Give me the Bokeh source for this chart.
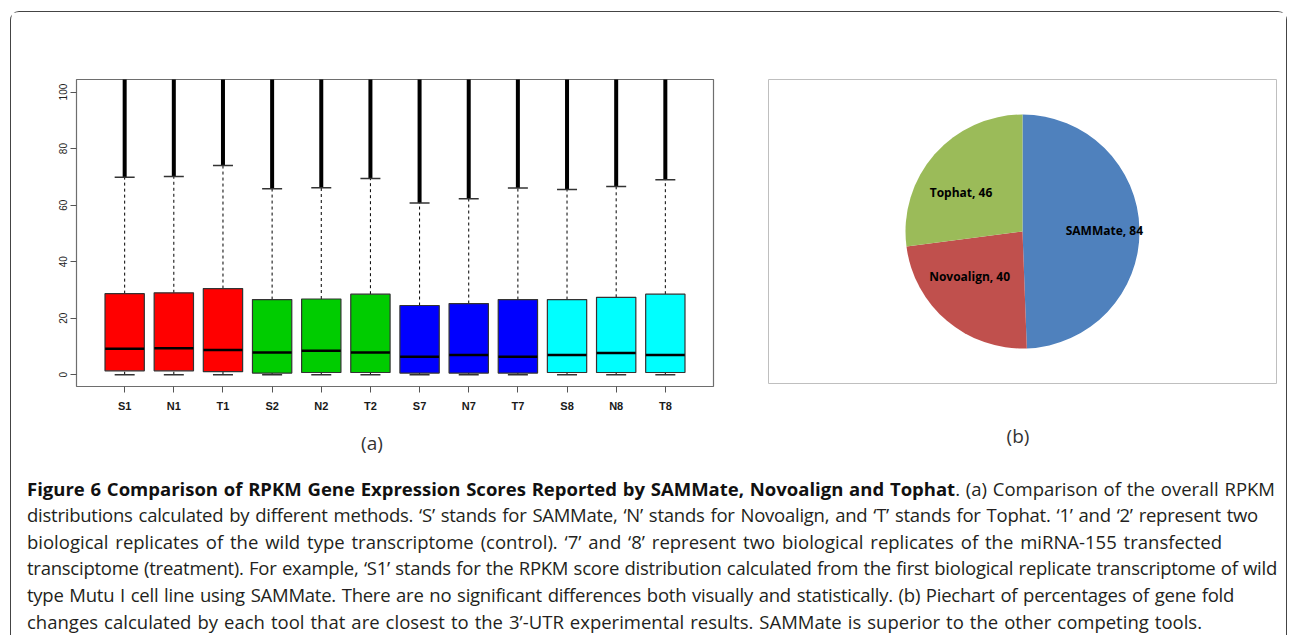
import numpy as np
from bokeh.plotting import figure
from bokeh.models import Range1d, FixedTicker, Div, ColumnDataSource
from bokeh.layouts import column, row
from bokeh.core.properties import value
from bokeh.embed import file_html
from bokeh.resources import INLINE

# ---------------- data: (a) RPKM box plot ----------------
categories = ["S1", "N1", "T1", "S2", "N2", "T2", "S7", "N7", "T7", "S8", "N8", "T8"]
lower_whisker = [0.0, 0.0, 0.0, 0.0, 0.0, 0.0, 0.0, 0.0, 0.0, 0.0, 0.0, 0.0]
q1 = [1.4, 1.4, 1.1, 0.6, 0.8, 0.8, 0.6, 0.6, 0.6, 0.8, 0.8, 0.8]
median = [9.2, 9.4, 8.8, 7.9, 8.5, 7.9, 6.4, 7.0, 6.4, 7.0, 7.7, 7.0]
q3 = [28.7, 29.0, 30.5, 26.6, 26.8, 28.5, 24.5, 25.2, 26.6, 26.6, 27.4, 28.5]
upper_whisker = [69.9, 70.1, 74.0, 65.8, 66.2, 69.4, 60.8, 62.3, 66.1, 65.5, 66.6, 69.0]
outlier_top = [120.0, 120.0, 120.0, 120.0, 120.0, 120.0, 120.0, 120.0, 120.0, 120.0, 120.0, 120.0]
box_colors = ["#FF0000", "#FF0000", "#FF0000", "#00CC00", "#00CC00", "#00CC00",
              "#0000FF", "#0000FF", "#0000FF", "#00FFFF", "#00FFFF", "#00FFFF"]
y_ticks = [0, 20, 40, 60, 80, 100]

# ---------------- data: (b) pie chart ----------------
methods = ["SAMMate", "Novoalign", "Tophat"]
closest_counts = [84, 40, 46]
pie_colors = ["#4F81BD", "#C0504D", "#9BBB59"]

panel_labels = ["(a)", "(b)"]

caption_bold = "Figure 6 Comparison of RPKM Gene Expression Scores Reported by SAMMate, Novoalign and Tophat"
caption_lines = [
    ". (a) Comparison of the overall RPKM",
    "distributions calculated by different methods. \u2018S\u2019 stands for SAMMate, \u2018N\u2019 stands for Novoalign, and \u2018T\u2019 stands for Tophat. \u20181\u2019 and \u20182\u2019 represent two",
    "biological replicates of the wild type transcriptome (control). \u20187\u2019 and \u20188\u2019 represent two biological replicates of the miRNA-155 transfected",
    "transciptome (treatment). For example, \u2018S1\u2019 stands for the RPKM score distribution calculated from the first biological replicate transcriptome of wild",
    "type Mutu I cell line using SAMMate. There are no significant differences both visually and statistically. (b) Piechart of percentages of gene fold",
    "changes calculated by each tool that are closest to the 3\u2019-UTR experimental results. SAMMate is superior to the other competing tools.",
]

# ---------------- (a) box plot ----------------
xpos = list(range(1, len(categories) + 1))
src = ColumnDataSource(dict(x=xpos, lw=lower_whisker, q1=q1, med=median, q3=q3,
                            uw=upper_whisker, otop=outlier_top, color=box_colors))

p = figure(output_backend="svg", toolbar_location=None,
           frame_width=637, frame_height=307,
           x_range=Range1d(0.02, 12.98), y_range=Range1d(-4.15, 104.45),
           min_border_left=65, min_border_right=27, min_border_top=65, min_border_bottom=38,
           background_fill_color="white", border_fill_color="white")

p.segment(x0="x", y0="q3", x1="x", y1="uw", source=src, line_color="black",
          line_width=1, line_dash="3 3")
p.segment(x0="x", y0="lw", x1="x", y1="q1", source=src, line_color="black",
          line_width=1, line_dash="3 3")
p.vbar(x="x", width=0.8, bottom="q1", top="q3", source=src, fill_color="color",
       line_color="#333333", line_width=1.2)
p.dash(x="x", y="med", size=39, source=src, line_color="black", line_width=2.5)
p.segment(x0="x", y0="uw", x1="x", y1="otop", source=src, line_color="black",
          line_width=4)
p.dash(x="x", y="uw", size=20, source=src, line_color="#333333", line_width=1.5)
p.dash(x="x", y="lw", size=20, source=src, line_color="#333333", line_width=1.5)

p.xgrid.visible = False
p.ygrid.visible = False
p.outline_line_color = "#6e6e6e"
p.outline_line_width = 1.2

p.xaxis.ticker = FixedTicker(ticks=xpos)
p.xaxis.major_label_overrides = {x: c for x, c in zip(xpos, categories)}
p.xaxis.axis_line_color = None
p.xaxis.major_tick_out = 6
p.xaxis.major_tick_in = 0
p.xaxis.minor_tick_line_color = None
p.xaxis.major_tick_line_color = "#555555"
p.xaxis.major_label_standoff = 7
p.xaxis.major_label_text_font = "Liberation Sans"
p.xaxis.major_label_text_font_style = "bold"
p.xaxis.major_label_text_font_size = "11px"
p.xaxis.major_label_text_color = "#1a1a1a"

p.yaxis.ticker = FixedTicker(ticks=y_ticks)
p.yaxis.axis_line_color = None
p.yaxis.major_tick_out = 6
p.yaxis.major_tick_in = 0
p.yaxis.minor_tick_line_color = None
p.yaxis.major_tick_line_color = "#555555"
p.yaxis.major_label_orientation = "vertical"
p.yaxis.major_label_standoff = 3
p.yaxis.major_label_text_font = "Liberation Sans"
p.yaxis.major_label_text_font_size = "10px"
p.yaxis.major_label_text_color = "#222222"

# ---------------- (b) pie chart ----------------
counts = np.array(closest_counts, dtype=float)
frac = counts / counts.sum()
ends = np.pi / 2 - 2 * np.pi * np.cumsum(frac)
starts = np.concatenate([[np.pi / 2], ends[:-1]])
mids = (starts + ends) / 2
pie_src = ColumnDataSource(dict(
    start=starts, end=ends, color=pie_colors,
    lx=0.70 * np.cos(mids), ly=0.50 * np.sin(mids),
    label=[f"{m}, {c}" for m, c in zip(methods, closest_counts)],
))

pf = figure(output_backend="svg", toolbar_location=None,
            frame_width=508, frame_height=304,
            x_range=Range1d(-2.171, 2.171), y_range=Range1d(-1.299, 1.299),
            min_border_left=28, min_border_right=10, min_border_top=67, min_border_bottom=39,
            background_fill_color="white", border_fill_color="white")
pf.wedge(x=0, y=0, radius=1, start_angle="start", end_angle="end", direction="clock",
         fill_color="color", line_color=None, source=pie_src)
pf.text(x="lx", y="ly", text="label", source=pie_src, text_align="center",
        text_baseline="middle", text_font=value("Open Sans"), text_font_style="bold",
        text_font_size="12px", text_color="black")
pf.axis.visible = False
pf.grid.visible = False
pf.outline_line_color = "#BFBFBF"
pf.outline_line_width = 1

# ---------------- panel labels + caption ----------------
line_widths = [1248, 1231, 1195, 1250, 1207, 1175]
line_spacing = ["0", "-0.25px", "0", "-0.25px", "-0.25px", "0"]
line_texts = ['<b style="color:#111">' + caption_bold + "</b>" + caption_lines[0]] + caption_lines[1:]
lines_html = "".join(
    f'<div style="width:{w}px;text-align:justify;text-align-last:justify;letter-spacing:{ls};">{t}</div>'
    for w, ls, t in zip(line_widths, line_spacing, line_texts)
)
label_style = ("position:absolute;width:100px;text-align:center;font-size:19px;"
               "line-height:26px;color:#333333;")
html = (
    '<div style="position:relative;width:1275px;height:213px;font-family:\'Open Sans\';color:#231f20;">'
    f'<div style="{label_style}left:311px;top:8px;">{panel_labels[0]}</div>'
    f'<div style="{label_style}left:957px;top:1px;">{panel_labels[1]}</div>'
    '<div style="position:absolute;left:16px;top:53.7px;font-size:18.5px;line-height:26.6px;">'
    + lines_html + "</div></div>"
)
caption = Div(text=html, width=1275, height=213, margin=0)

layout = column(row(p, pf, spacing=0), caption, spacing=0, margin=(11, 0, 0, 10),
                styles={"border": "1px solid #444444", "border-bottom": "none",
                        "border-radius": "9px 9px 0 0", "background": "white"})

open("out.html", "w").write(file_html(layout, INLINE))
